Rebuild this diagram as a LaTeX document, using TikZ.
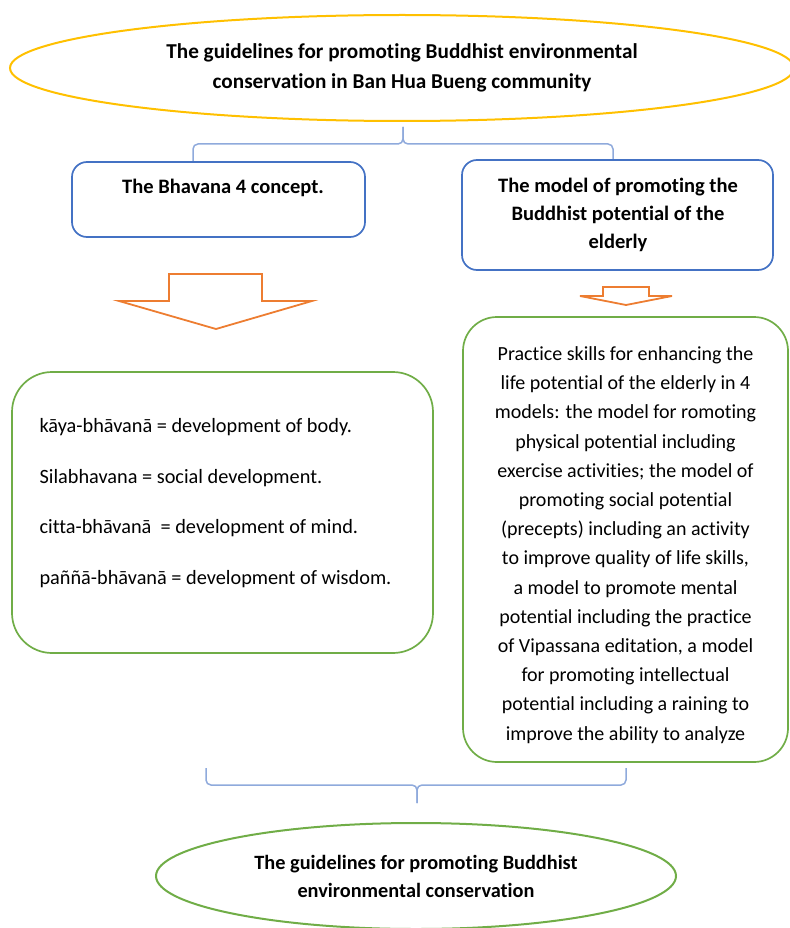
\documentclass[tikz,border=0pt]{standalone}
\usepackage{fontspec}
\setmainfont{Carlito}[Ligatures=NoCommon]
\usetikzlibrary{shapes.geometric, calc}
\definecolor{gold}{HTML}{FFC000}
\definecolor{boxblue}{HTML}{4472C4}
\definecolor{braceblue}{HTML}{8FAADC}
\definecolor{leafgreen}{HTML}{70AD47}
\definecolor{arroworange}{HTML}{ED7D31}
\tikzset{
  bluebox/.style={draw=boxblue, line width=1.7pt, rounded corners=15pt, inner sep=0pt},
  greenbox/.style={draw=leafgreen, line width=1.7pt, rounded corners=40pt, inner sep=0pt},
  bracket/.style={draw=braceblue, line width=1.5pt, rounded corners=5pt},
  blockarrow/.style={draw=arroworange, line width=1.8pt, line join=miter},
  oval/.style={ellipse, line width=2pt, inner sep=0pt},
  headfont/.style={font=\bfseries\fontsize{20.5}{28}\selectfont, align=center},
  bodyfont/.style={font=\fontsize{20}{29.2}\selectfont},
}

\begin{document}
\begin{tikzpicture}[x=1pt, y=-1pt]
\useasboundingbox (0,0) rectangle (789,928);

% title and the two concepts
\node[oval, draw=gold, minimum width=784pt, minimum height=106pt, headfont, font=\bfseries\fontsize{21.2}{30}\selectfont] (topell) at (402,68)
  {The guidelines for promoting Buddhist environmental\\conservation in Ban Hua Bueng community};
\node[bluebox, minimum width=293pt, minimum height=75pt] (bhav) at (218.5,199.5) {};
\node[headfont] (bhavtxt) at (223,188) {The Bhavana 4 concept.};
\node[bluebox, minimum width=311pt, minimum height=110pt] (elder) at (617.5,215) {};
\node[headfont] (eldertxt) at (618,215) {The model of promoting the\\Buddhist potential of the\\elderly};

% upper brace
\coordinate (ttip) at ($(topell.south)+(1,5)$);
\coordinate (tmid) at (403,144);
\coordinate (tleft) at (193,161);
\coordinate (tright) at (613,159);
\draw[bracket] (tleft) |- (tmid) -- (ttip);
\draw[bracket] (tright) |- (tmid) -- (ttip);

% block arrows
\draw[blockarrow] (169,274) -- (262,274) -- (262,301) -- (312,301) -- (216,329)
  -- (119,301) -- (169,301) -- cycle;
\draw[blockarrow] (603,287) -- (649,287) -- (649,296) -- (672,296) -- (626,305)
  -- (580,296) -- (603,296) -- cycle;

% the two lists
\node[greenbox, minimum width=421pt, minimum height=281pt] (bhavlist) at (222.5,512.5) {};
\node[bodyfont, align=left, anchor=west, font=\fontsize{20.3}{50.5}\selectfont] (bhavtxt2) at (36,503)
  {kāya-bhāvanā = development of body.\\
   Silabhavana = social development.\\
   citta-bhāvanā \ = development of mind.\\
   paññā-bhāvanā = development of wisdom.};
\node[greenbox, rounded corners=34pt, minimum width=325pt, minimum height=445pt] (practice) at (625.5,539.5) {};
\node[bodyfont, align=center] (practicetxt) at (625.5,545)
  {Practice skills for enhancing the\\
   life potential of the elderly in 4\\
   models: the model for romoting\\
   physical potential including\\
   exercise activities; the model of\\
   promoting social potential\\
   (precepts) including an activity\\
   to improve quality of life skills,\\
   a model to promote mental\\
   potential including the practice\\
   of Vipassana editation, a model\\
   for promoting intellectual\\
   potential including a raining to\\
   improve the ability to analyze};

% lower brace
\coordinate (bleft) at (206,768);
\coordinate (bright) at (626,768);
\coordinate (bmid) at (417,785);
\coordinate (btip) at (417,803);
\draw[bracket] (bleft) |- (bmid) -- (btip);
\draw[bracket] (bright) |- (bmid) -- (btip);

\node[oval, draw=leafgreen, minimum width=520pt, minimum height=106pt, headfont, font=\bfseries\fontsize{20.3}{28}\selectfont] (botell) at (416,876)
  {The guidelines for promoting Buddhist\\environmental conservation};
\end{tikzpicture}
\end{document}
